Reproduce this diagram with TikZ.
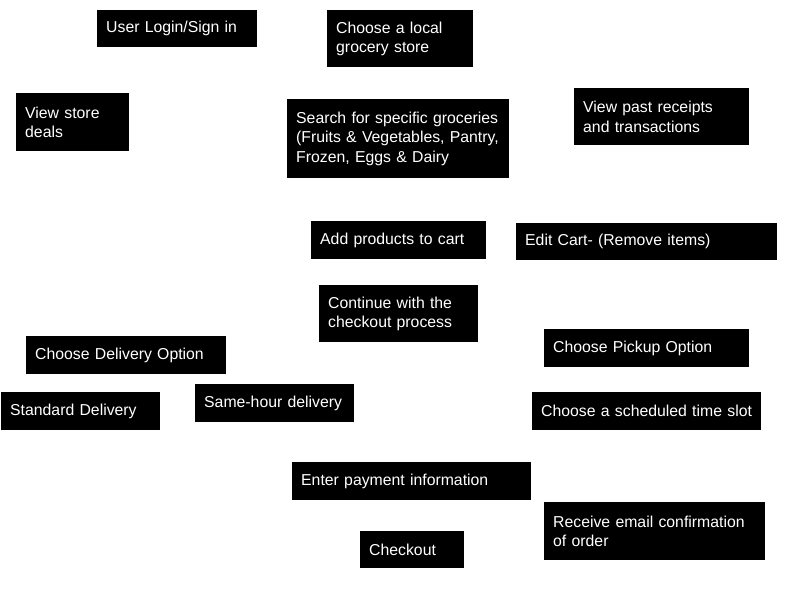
\documentclass[tikz,border=0pt]{standalone}
\usepackage{fontspec}
\setmainfont{Liberation Sans}
\usepackage{tikz}
\usetikzlibrary{positioning}
\tikzset{
  card/.style={fill=black, text=white, anchor=north west, align=left,
    inner xsep=9pt, inner ysep=0pt,
    font=\fontsize{15.8}{19.5}\selectfont}
}
% card at top left corner x,y with width w and height h
\newcommand{\card}[6]{%
  \node[card, text width=#4pt-18pt, minimum height=#5pt] (#1) at (#2,#3) {#6};}

\begin{document}
\begin{tikzpicture}[x=1pt, y=-1pt]
  \useasboundingbox (0,0) rectangle (800,600);
  \card{login}{97}{10}{160}{37}{User Login/Sign in}
  \card{store}{327}{10}{146}{57}{Choose a local\\grocery store}
  \card{deals}{16}{93}{113}{58}{View store\\deals}
  \card{search}{287}{99}{222}{79}{Search for specific groceries\\(Fruits \& Vegetables, Pantry,\\Frozen, Eggs \& Dairy}
  \card{receipts}{574}{88}{175}{57}{View past receipts\\and transactions}
  \card{addcart}{311}{221}{175}{38}{Add products to cart}
  \card{editcart}{516}{223}{261}{37}{Edit Cart- (Remove items)}
  \card{proceed}{319}{285}{159}{57}{Continue with the\\checkout process}
  \card{delivery}{26}{336}{200}{38}{Choose Delivery Option}
  \card{pickup}{544}{329}{205}{38}{Choose Pickup Option}
  \card{standard}{1}{392}{159}{38}{Standard Delivery}
  \card{samehour}{195}{384}{159}{38}{Same-hour delivery}
  \card{timeslot}{532}{392}{229}{38}{Choose a scheduled time slot}
  \card{payment}{292}{462}{239}{38}{Enter payment information}
  \card{email}{544}{502}{221}{58}{Receive email confirmation\\of order}
  \card{checkout}{360}{531}{104}{37}{Checkout}
\end{tikzpicture}
\end{document}
